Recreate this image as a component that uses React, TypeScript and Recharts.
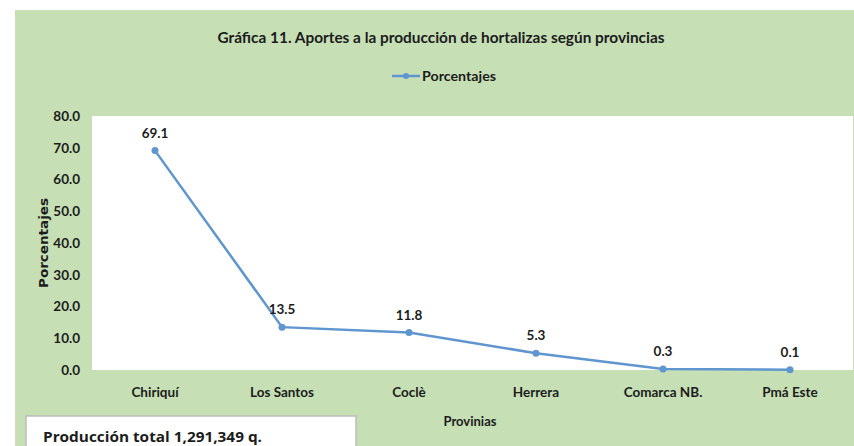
import { CartesianGrid, LabelList, Legend, Line, LineChart, XAxis, YAxis } from "recharts";

const provincias = ["Chiriquí", "Los Santos", "Coclè", "Herrera", "Comarca NB.", "Pmá Este"];
const porcentajes = [69.1, 13.5, 11.8, 5.3, 0.3, 0.1];
const yTicks = [0, 10, 20, 30, 40, 50, 60, 70, 80];

const data = provincias.map((p, i) => ({ provincia: p, pct: porcentajes[i] }));

const BLUE = "#5f96d0";
const GREEN = "#c6dfb5";
const INK = "#1c1c1c";
const FONT = "Lato, 'Open Sans', sans-serif";

const tickStyle = { fill: INK, fontSize: 13.5, fontWeight: 700, fontFamily: FONT };

function LegendKey() {
    return (
        <svg width={110} height={20}>
            <line x1={0} y1={10} x2={28} y2={10} stroke={BLUE} strokeWidth={2.5} />
            <circle cx={14} cy={10} r={3} fill={BLUE} />
            <text x={30} y={14.5} fill={INK} fontSize={13} fontWeight={700} fontFamily={FONT}
                textLength={74} lengthAdjust="spacingAndGlyphs">Porcentajes</text>
        </svg>
    );
}

export default function App() {
    return (
        <div style={{ position: "absolute", left: 0, top: 0, width: 854, height: 446, background: "#fff", overflow: "hidden" }}>
            <div style={{ position: "absolute", left: 15, top: 10, right: 0, bottom: 0, background: GREEN }} />
            <div style={{ position: "absolute", left: 0, top: 0 }}>
                <LineChart
                    width={854}
                    height={446}
                    data={data}
                    margin={{ top: 96, right: 1, left: 32, bottom: 46 }}
                >
                    <CartesianGrid horizontal={false} vertical={false} fill="#ffffff" />
                    <XAxis
                        dataKey="provincia"
                        axisLine={false}
                        tickLine={false}
                        tickSize={0}
                        tickMargin={17}
                        interval={0}
                        padding={{ left: 63, right: 63 }}
                        tick={tickStyle}
                    />
                    <YAxis
                        domain={[0, 80]}
                        ticks={yTicks}
                        tickFormatter={(v: number) => v.toFixed(1)}
                        axisLine={false}
                        tickLine={false}
                        tickSize={0}
                        tickMargin={12}
                        width={60}
                        tick={tickStyle}
                    />
                    <Legend
                        verticalAlign="top"
                        content={() => <LegendKey />}
                        wrapperStyle={{ position: "absolute", top: 66, left: 392, width: 110, height: 20 }}
                    />
                    <Line
                        type="linear"
                        dataKey="pct"
                        name="Porcentajes"
                        stroke={BLUE}
                        strokeWidth={2.5}
                        dot={{ r: 3.5, fill: BLUE, stroke: BLUE, strokeWidth: 0 }}
                        isAnimationActive={false}
                    >
                        <LabelList
                            dataKey="pct"
                            position="top"
                            offset={13}
                            formatter={(v: number) => v.toFixed(1)}
                            style={{ fill: INK, fontSize: 13.5, fontWeight: 700, fontFamily: FONT }}
                        />
                    </Line>
                </LineChart>
            </div>
            <svg width={854} height={446} style={{ position: "absolute", left: 0, top: 0, pointerEvents: "none" }}>
                <text x={441} y={43} textAnchor="middle" fill={INK} fontSize={16} fontWeight={700} fontFamily={FONT}
                    textLength={447} lengthAdjust="spacingAndGlyphs">
                    Gráfica 11. Aportes a la producción de hortalizas según provincias
                </text>
                <text x={48} y={243} textAnchor="middle" transform="rotate(-90 48 243)" fill={INK} fontSize={12}
                    fontWeight={700} fontFamily="'DejaVu Sans', sans-serif" textLength={90} lengthAdjust="spacingAndGlyphs">
                    Porcentajes
                </text>
                <text x={470} y={426} textAnchor="middle" fill={INK} fontSize={13} fontWeight={700} fontFamily={FONT}>
                    Provinias
                </text>
                <rect x={26} y={416} width={330} height={40} fill="#ffffff" stroke="#bdbdbd" strokeWidth={1.5} />
                <text x={43} y={442} fill={INK} fontSize={14} fontWeight={700} fontFamily="'Open Sans', sans-serif"
                    textLength={219} lengthAdjust="spacingAndGlyphs">
                    Producción total 1,291,349 q.
                </text>
            </svg>
        </div>
    );
}
